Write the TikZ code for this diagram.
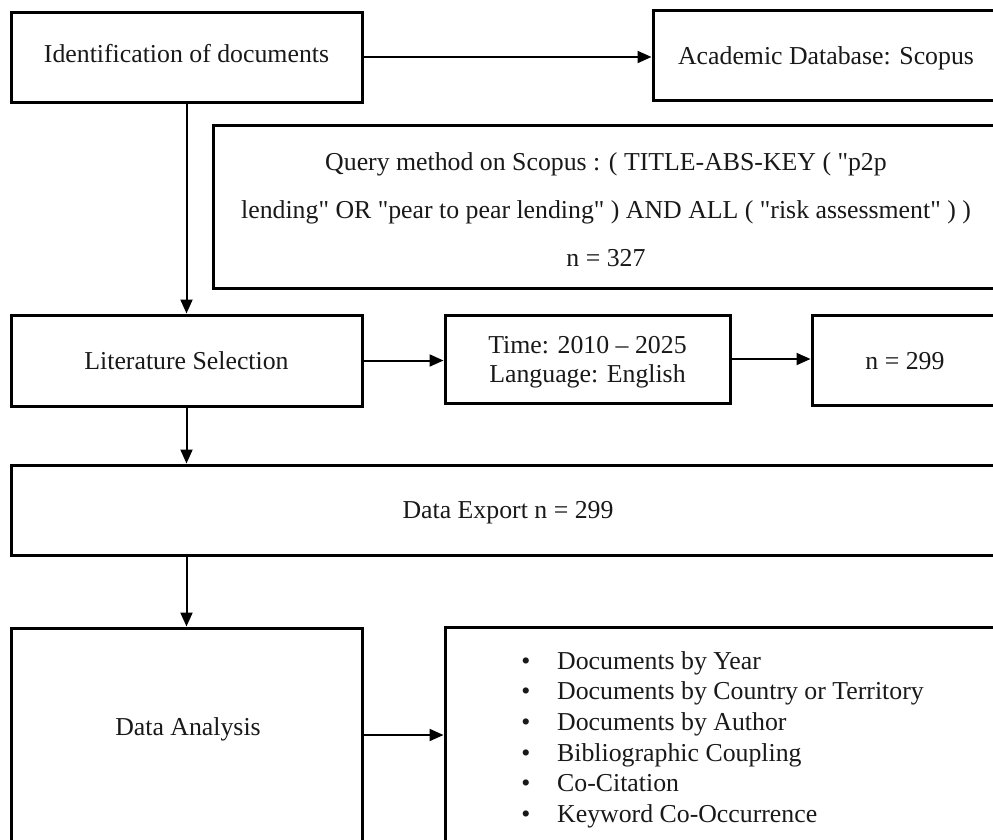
\documentclass[tikz,border=0pt]{standalone}
\usepackage{fontspec}
\setmainfont{Liberation Serif}[Ligatures=TeXOff]
\usetikzlibrary{arrows.meta}
\begin{document}
\begin{tikzpicture}[x=1pt,y=-1pt,
  box/.style={draw, line width=3pt, inner sep=0pt},
  lbl/.style={inner sep=0pt, anchor=base, text=black!90, font=\fontsize{25.8}{30}\selectfont},
  conn/.style={line width=2pt, -{Triangle[length=14pt,width=12pt]}}]
\useasboundingbox (0,0) rectangle (993,839);
\fill[white] (0,0) rectangle (993,839);
\clip (0,0) rectangle (993,839);

% boxes
\node[box, minimum width=351pt, minimum height=90pt]  (ident)  at (186.5,57)  {};
\node[box, minimum width=346pt, minimum height=90pt]  (scopus) at (826,55)    {};
\node[box, minimum width=782pt, minimum height=163pt] (query)  at (604,206.5) {};
\node[box, minimum width=351pt, minimum height=91pt]  (lit)    at (186.5,360.5) {};
\node[box, minimum width=285pt, minimum height=88pt]  (time)   at (587.5,359) {};
\node[box, minimum width=186pt, minimum height=90pt]  (nbox)   at (905,360)   {};
\node[box, minimum width=994pt, minimum height=90pt]  (export) at (508,510)   {};
\node[box, minimum width=351pt, minimum height=214pt] (anal)   at (186.5,735) {};
\node[box, minimum width=555pt, minimum height=253pt] (list)   at (722.5,753.5) {};

% texts
\node[lbl] (identT)  at (186.5,62) {Identification of documents};
\node[lbl] (scopusT) at (826,64)   {Academic Database: Scopus};
\node[lbl] (q1) at (606,170) {Query method on Scopus : ( TITLE-ABS-KEY ( "p2p};
\node[lbl] (q2) at (606,218) {lending" OR "pear to pear lending" ) AND ALL ( "risk assessment" ) )};
\node[lbl] (q3) at (606,266) {n = 327};
\node[lbl] (litT)  at (186.5,369) {Literature Selection};
\node[lbl] (t1)    at (587.5,353) {Time: 2010 – 2025};
\node[lbl] (t2)    at (587.5,382) {Language: English};
\node[lbl] (nT)    at (905,369)   {n = 299};
\node[lbl] (expT)  at (508,518)   {Data Export n = 299};
\node[lbl] (analT) at (188,735)   {Data Analysis};
\foreach \t [count=\i] in {Documents by Year, Documents by Country or Territory, Documents by Author, Bibliographic Coupling, Co-Citation, Keyword Co-Occurrence}{
  \node[lbl] (bul\i) at (526,{669+30.7*(\i-1)}) {•};
  \node[lbl, anchor=base west] (item\i) at (557,{669+30.7*(\i-1)}) {\t};
}

% connectors
\draw[conn] (ident.east) -- (ident.east -| scopus.west);
\draw[conn] (ident.south) -- (lit.north);
\draw[conn] (lit.east) -- (lit.east -| time.west);
\draw[conn] (time.east) -- (time.east -| nbox.west);
\draw[conn] (lit.south) -- (lit.south |- export.north);
\draw[conn] (lit.south |- export.south) -- (anal.north);
\draw[conn] (anal.east) -- (anal.east -| list.west);
\end{tikzpicture}
\end{document}
